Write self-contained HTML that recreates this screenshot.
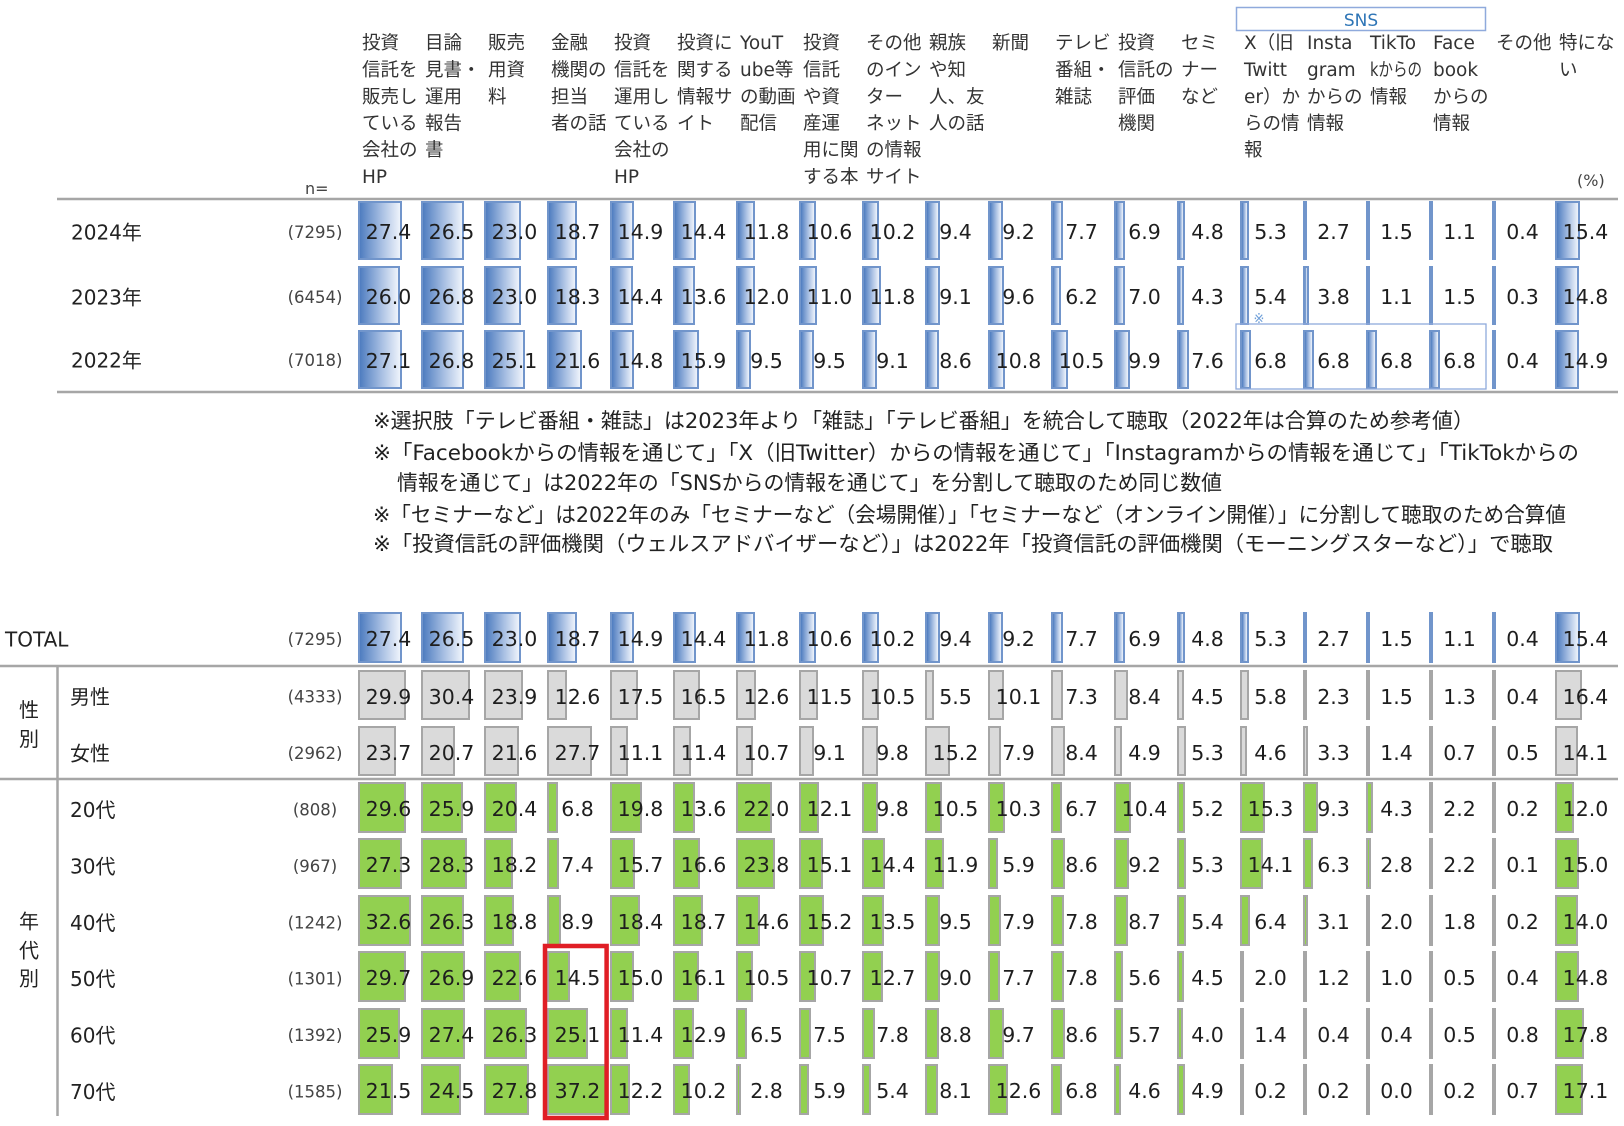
<!DOCTYPE html>
<html><head><meta charset="utf-8">
<style>
body{margin:0;width:1624px;height:1126px;background:#fff;position:relative;overflow:hidden;font-family:"DejaVu Sans","Noto Sans CJK JP",sans-serif}
svg{position:absolute;left:0;top:0}
.r{position:absolute;left:358px;display:flex}
.r p{margin:0 2px 0 0;width:61px;position:relative;z-index:0;text-align:center;font-size:20.5px;color:#1e1e1e;white-space:nowrap;font-family:"DejaVu Sans",sans-serif}
.r p::before{content:"";position:absolute;left:0;top:0;height:var(--h);z-index:-1;box-sizing:border-box;width:max(calc(var(--v) * 1.62px),2.5px)}
.b p::before{background:linear-gradient(90deg,#4f7dc0,#a9c0e3 55%,#eef3fb);border:2px solid #7195cb}
.g p::before{background:#dadada;border:2.5px solid #a6a6a6}
.n p::before{background:#92d050;border:2px solid #a6a6a6}
</style></head><body>
<svg width="1624" height="1126" viewBox="0 0 1624 1126">
<g fill="#333" font-size="18.5" font-family="DejaVu Sans,Noto Sans CJK JP,sans-serif">
<text><tspan x="362" y="49">投資</tspan><tspan x="362" y="76">信託を</tspan><tspan x="362" y="103">販売し</tspan><tspan x="362" y="129.5">ている</tspan><tspan x="362" y="156">会社の</tspan><tspan x="362" y="183">HP</tspan></text>
<text><tspan x="425" y="49">目論</tspan><tspan x="425" y="76">見書・</tspan><tspan x="425" y="103">運用</tspan><tspan x="425" y="129.5">報告</tspan><tspan x="425" y="156">書</tspan></text>
<text><tspan x="488" y="49">販売</tspan><tspan x="488" y="76">用資</tspan><tspan x="488" y="103">料</tspan></text>
<text><tspan x="551" y="49">金融</tspan><tspan x="551" y="76">機関の</tspan><tspan x="551" y="103">担当</tspan><tspan x="551" y="129.5">者の話</tspan></text>
<text><tspan x="614" y="49">投資</tspan><tspan x="614" y="76">信託を</tspan><tspan x="614" y="103">運用し</tspan><tspan x="614" y="129.5">ている</tspan><tspan x="614" y="156">会社の</tspan><tspan x="614" y="183">HP</tspan></text>
<text><tspan x="677" y="49">投資に</tspan><tspan x="677" y="76">関する</tspan><tspan x="677" y="103">情報サ</tspan><tspan x="677" y="129.5">イト</tspan></text>
<text><tspan x="740" y="49">YouT</tspan><tspan x="740" y="76">ube等</tspan><tspan x="740" y="103">の動画</tspan><tspan x="740" y="129.5">配信</tspan></text>
<text><tspan x="803" y="49">投資</tspan><tspan x="803" y="76">信託</tspan><tspan x="803" y="103">や資</tspan><tspan x="803" y="129.5">産運</tspan><tspan x="803" y="156">用に関</tspan><tspan x="803" y="183">する本</tspan></text>
<text><tspan x="866" y="49">その他</tspan><tspan x="866" y="76">のイン</tspan><tspan x="866" y="103">ター</tspan><tspan x="866" y="129.5">ネット</tspan><tspan x="866" y="156">の情報</tspan><tspan x="866" y="183">サイト</tspan></text>
<text><tspan x="929" y="49">親族</tspan><tspan x="929" y="76">や知</tspan><tspan x="929" y="103">人、友</tspan><tspan x="929" y="129.5">人の話</tspan></text>
<text><tspan x="992" y="49">新聞</tspan></text>
<text><tspan x="1055" y="49">テレビ</tspan><tspan x="1055" y="76">番組・</tspan><tspan x="1055" y="103">雑誌</tspan></text>
<text><tspan x="1118" y="49">投資</tspan><tspan x="1118" y="76">信託の</tspan><tspan x="1118" y="103">評価</tspan><tspan x="1118" y="129.5">機関</tspan></text>
<text><tspan x="1181" y="49">セミ</tspan><tspan x="1181" y="76">ナー</tspan><tspan x="1181" y="103">など</tspan></text>
<text><tspan x="1244" y="49">X（旧</tspan><tspan x="1244" y="76">Twitt</tspan><tspan x="1244" y="103">er）か</tspan><tspan x="1244" y="129.5">らの情</tspan><tspan x="1244" y="156">報</tspan></text>
<text><tspan x="1307" y="49">Insta</tspan><tspan x="1307" y="76">gram</tspan><tspan x="1307" y="103">からの</tspan><tspan x="1307" y="129.5">情報</tspan></text>
<text><tspan x="1370" y="49">TikTo</tspan><tspan x="1370" y="103">情報</tspan></text>
<text x="1370" y="76" textLength="52" lengthAdjust="spacingAndGlyphs">kからの</text>
<text><tspan x="1433" y="49">Face</tspan><tspan x="1433" y="76">book</tspan><tspan x="1433" y="103">からの</tspan><tspan x="1433" y="129.5">情報</tspan></text>
<text><tspan x="1496" y="49">その他</tspan></text>
<text><tspan x="1559" y="49">特にな</tspan><tspan x="1559" y="76">い</tspan></text>
</g>
<rect x="1236.5" y="7.5" width="249" height="23" fill="none" stroke="#8faadc" stroke-width="1.5"/>
<text x="1361" y="26" text-anchor="middle" font-size="17" fill="#2e75b6" font-family="DejaVu Sans,sans-serif">SNS</text>
<text x="305" y="194" font-size="16" fill="#444" font-family="DejaVu Sans,sans-serif">n=</text>
<text x="1577" y="186" font-size="16" fill="#444" font-family="DejaVu Sans,sans-serif">(%)</text>
<g stroke="#a6a6a6" stroke-width="2.5" fill="none">
<line x1="57" y1="199" x2="1618" y2="199"/>
<line x1="57" y1="392" x2="1618" y2="392"/>
<line x1="0" y1="666" x2="1618" y2="666"/>
<line x1="0" y1="779" x2="1618" y2="779"/>
<line x1="57.5" y1="667" x2="57.5" y2="1116"/>
</g>
<g font-size="20" fill="#222" font-family="DejaVu Sans,Noto Sans CJK JP,sans-serif">
<text x="71" y="239.5">2024年</text>
<text x="71" y="304.5">2023年</text>
<text x="71" y="367.5">2022年</text>
<text x="5" y="646.5">TOTAL</text>
<text x="70" y="704">男性</text>
<text x="70" y="760.5">女性</text>
<text x="70" y="817">20代</text>
<text x="70" y="873.5">30代</text>
<text x="70" y="930">40代</text>
<text x="70" y="986">50代</text>
<text x="70" y="1042.5">60代</text>
<text x="70" y="1099">70代</text>
<text x="29" y="717" text-anchor="middle">性</text>
<text x="29" y="746" text-anchor="middle">別</text>
<text x="29" y="928.5" text-anchor="middle">年</text>
<text x="29" y="957.5" text-anchor="middle">代</text>
<text x="29" y="985.5" text-anchor="middle">別</text>
</g>
<g font-size="16.5" fill="#444" text-anchor="middle" font-family="DejaVu Sans,sans-serif">
<text x="315" y="238">(7295)</text>
<text x="315" y="303">(6454)</text>
<text x="315" y="366">(7018)</text>
<text x="315" y="645">(7295)</text>
<text x="315" y="702.5">(4333)</text>
<text x="315" y="759">(2962)</text>
<text x="315" y="815.5">(808)</text>
<text x="315" y="872">(967)</text>
<text x="315" y="928.5">(1242)</text>
<text x="315" y="984.5">(1301)</text>
<text x="315" y="1041">(1392)</text>
<text x="315" y="1097.5">(1585)</text>
</g>
<g font-size="21" fill="#222" font-family="DejaVu Sans,Noto Sans CJK JP,sans-serif">
<text x="373" y="428" textLength="1101" lengthAdjust="spacingAndGlyphs">※選択肢「テレビ番組・雑誌」は2023年より「雑誌」「テレビ番組」を統合して聴取（2022年は合算のため参考値）</text>
<text x="373" y="460" textLength="1206" lengthAdjust="spacingAndGlyphs">※「Facebookからの情報を通じて」「X（旧Twitter）からの情報を通じて」「Instagramからの情報を通じて」「TikTokからの</text>
<text x="397" y="490" textLength="825" lengthAdjust="spacingAndGlyphs">情報を通じて」は2022年の「SNSからの情報を通じて」を分割して聴取のため同じ数値</text>
<text x="373" y="522" textLength="1193" lengthAdjust="spacingAndGlyphs">※「セミナーなど」は2022年のみ「セミナーなど（会場開催）」「セミナーなど（オンライン開催）」に分割して聴取のため合算値</text>
<text x="373" y="551" textLength="1180" lengthAdjust="spacingAndGlyphs">※「投資信託の評価機関（ウェルスアドバイザーなど）」は2022年「投資信託の評価機関（モーニングスターなど）」で聴取</text>
</g>
</svg>

<div class="r b" style="top:201px;height:59px;line-height:63px;--h:59px"><p style="--v:27.4">27.4</p><p style="--v:26.5">26.5</p><p style="--v:23.0">23.0</p><p style="--v:18.7">18.7</p><p style="--v:14.9">14.9</p><p style="--v:14.4">14.4</p><p style="--v:11.8">11.8</p><p style="--v:10.6">10.6</p><p style="--v:10.2">10.2</p><p style="--v:9.4">9.4</p><p style="--v:9.2">9.2</p><p style="--v:7.7">7.7</p><p style="--v:6.9">6.9</p><p style="--v:4.8">4.8</p><p style="--v:5.3">5.3</p><p style="--v:2.7">2.7</p><p style="--v:1.5">1.5</p><p style="--v:1.1">1.1</p><p style="--v:0.4">0.4</p><p style="--v:15.4">15.4</p></div>
<div class="r b" style="top:265.5px;height:59px;line-height:63px;--h:59px"><p style="--v:26.0">26.0</p><p style="--v:26.8">26.8</p><p style="--v:23.0">23.0</p><p style="--v:18.3">18.3</p><p style="--v:14.4">14.4</p><p style="--v:13.6">13.6</p><p style="--v:12.0">12.0</p><p style="--v:11.0">11.0</p><p style="--v:11.8">11.8</p><p style="--v:9.1">9.1</p><p style="--v:9.6">9.6</p><p style="--v:6.2">6.2</p><p style="--v:7.0">7.0</p><p style="--v:4.3">4.3</p><p style="--v:5.4">5.4</p><p style="--v:3.8">3.8</p><p style="--v:1.1">1.1</p><p style="--v:1.5">1.5</p><p style="--v:0.3">0.3</p><p style="--v:14.8">14.8</p></div>
<div class="r b" style="top:329.5px;height:59px;line-height:63px;--h:59px"><p style="--v:27.1">27.1</p><p style="--v:26.8">26.8</p><p style="--v:25.1">25.1</p><p style="--v:21.6">21.6</p><p style="--v:14.8">14.8</p><p style="--v:15.9">15.9</p><p style="--v:9.5">9.5</p><p style="--v:9.5">9.5</p><p style="--v:9.1">9.1</p><p style="--v:8.6">8.6</p><p style="--v:10.8">10.8</p><p style="--v:10.5">10.5</p><p style="--v:9.9">9.9</p><p style="--v:7.6">7.6</p><p style="--v:6.8">6.8</p><p style="--v:6.8">6.8</p><p style="--v:6.8">6.8</p><p style="--v:6.8">6.8</p><p style="--v:0.4">0.4</p><p style="--v:14.9">14.9</p></div>

<div class="r b" style="top:612px;height:51px;line-height:55px;--h:51px"><p style="--v:27.4">27.4</p><p style="--v:26.5">26.5</p><p style="--v:23.0">23.0</p><p style="--v:18.7">18.7</p><p style="--v:14.9">14.9</p><p style="--v:14.4">14.4</p><p style="--v:11.8">11.8</p><p style="--v:10.6">10.6</p><p style="--v:10.2">10.2</p><p style="--v:9.4">9.4</p><p style="--v:9.2">9.2</p><p style="--v:7.7">7.7</p><p style="--v:6.9">6.9</p><p style="--v:4.8">4.8</p><p style="--v:5.3">5.3</p><p style="--v:2.7">2.7</p><p style="--v:1.5">1.5</p><p style="--v:1.1">1.1</p><p style="--v:0.4">0.4</p><p style="--v:15.4">15.4</p></div>
<div class="r g" style="top:670px;height:50px;line-height:54px;--h:50px"><p style="--v:29.9">29.9</p><p style="--v:30.4">30.4</p><p style="--v:23.9">23.9</p><p style="--v:12.6">12.6</p><p style="--v:17.5">17.5</p><p style="--v:16.5">16.5</p><p style="--v:12.6">12.6</p><p style="--v:11.5">11.5</p><p style="--v:10.5">10.5</p><p style="--v:5.5">5.5</p><p style="--v:10.1">10.1</p><p style="--v:7.3">7.3</p><p style="--v:8.4">8.4</p><p style="--v:4.5">4.5</p><p style="--v:5.8">5.8</p><p style="--v:2.3">2.3</p><p style="--v:1.5">1.5</p><p style="--v:1.3">1.3</p><p style="--v:0.4">0.4</p><p style="--v:16.4">16.4</p></div>
<div class="r g" style="top:726px;height:50px;line-height:54px;--h:50px"><p style="--v:23.7">23.7</p><p style="--v:20.7">20.7</p><p style="--v:21.6">21.6</p><p style="--v:27.7">27.7</p><p style="--v:11.1">11.1</p><p style="--v:11.4">11.4</p><p style="--v:10.7">10.7</p><p style="--v:9.1">9.1</p><p style="--v:9.8">9.8</p><p style="--v:15.2">15.2</p><p style="--v:7.9">7.9</p><p style="--v:8.4">8.4</p><p style="--v:4.9">4.9</p><p style="--v:5.3">5.3</p><p style="--v:4.6">4.6</p><p style="--v:3.3">3.3</p><p style="--v:1.4">1.4</p><p style="--v:0.7">0.7</p><p style="--v:0.5">0.5</p><p style="--v:14.1">14.1</p></div>
<div class="r n" style="top:782px;height:51px;line-height:55px;--h:51px"><p style="--v:29.6">29.6</p><p style="--v:25.9">25.9</p><p style="--v:20.4">20.4</p><p style="--v:6.8">6.8</p><p style="--v:19.8">19.8</p><p style="--v:13.6">13.6</p><p style="--v:22.0">22.0</p><p style="--v:12.1">12.1</p><p style="--v:9.8">9.8</p><p style="--v:10.5">10.5</p><p style="--v:10.3">10.3</p><p style="--v:6.7">6.7</p><p style="--v:10.4">10.4</p><p style="--v:5.2">5.2</p><p style="--v:15.3">15.3</p><p style="--v:9.3">9.3</p><p style="--v:4.3">4.3</p><p style="--v:2.2">2.2</p><p style="--v:0.2">0.2</p><p style="--v:12.0">12.0</p></div>
<div class="r n" style="top:838.4px;height:51px;line-height:55px;--h:51px"><p style="--v:27.3">27.3</p><p style="--v:28.3">28.3</p><p style="--v:18.2">18.2</p><p style="--v:7.4">7.4</p><p style="--v:15.7">15.7</p><p style="--v:16.6">16.6</p><p style="--v:23.8">23.8</p><p style="--v:15.1">15.1</p><p style="--v:14.4">14.4</p><p style="--v:11.9">11.9</p><p style="--v:5.9">5.9</p><p style="--v:8.6">8.6</p><p style="--v:9.2">9.2</p><p style="--v:5.3">5.3</p><p style="--v:14.1">14.1</p><p style="--v:6.3">6.3</p><p style="--v:2.8">2.8</p><p style="--v:2.2">2.2</p><p style="--v:0.1">0.1</p><p style="--v:15.0">15.0</p></div>
<div class="r n" style="top:894.8px;height:51px;line-height:55px;--h:51px"><p style="--v:32.6">32.6</p><p style="--v:26.3">26.3</p><p style="--v:18.8">18.8</p><p style="--v:8.9">8.9</p><p style="--v:18.4">18.4</p><p style="--v:18.7">18.7</p><p style="--v:14.6">14.6</p><p style="--v:15.2">15.2</p><p style="--v:13.5">13.5</p><p style="--v:9.5">9.5</p><p style="--v:7.9">7.9</p><p style="--v:7.8">7.8</p><p style="--v:8.7">8.7</p><p style="--v:5.4">5.4</p><p style="--v:6.4">6.4</p><p style="--v:3.1">3.1</p><p style="--v:2.0">2.0</p><p style="--v:1.8">1.8</p><p style="--v:0.2">0.2</p><p style="--v:14.0">14.0</p></div>
<div class="r n" style="top:951.2px;height:51px;line-height:55px;--h:51px"><p style="--v:29.7">29.7</p><p style="--v:26.9">26.9</p><p style="--v:22.6">22.6</p><p style="--v:14.5">14.5</p><p style="--v:15.0">15.0</p><p style="--v:16.1">16.1</p><p style="--v:10.5">10.5</p><p style="--v:10.7">10.7</p><p style="--v:12.7">12.7</p><p style="--v:9.0">9.0</p><p style="--v:7.7">7.7</p><p style="--v:7.8">7.8</p><p style="--v:5.6">5.6</p><p style="--v:4.5">4.5</p><p style="--v:2.0">2.0</p><p style="--v:1.2">1.2</p><p style="--v:1.0">1.0</p><p style="--v:0.5">0.5</p><p style="--v:0.4">0.4</p><p style="--v:14.8">14.8</p></div>
<div class="r n" style="top:1007.6px;height:51px;line-height:55px;--h:51px"><p style="--v:25.9">25.9</p><p style="--v:27.4">27.4</p><p style="--v:26.3">26.3</p><p style="--v:25.1">25.1</p><p style="--v:11.4">11.4</p><p style="--v:12.9">12.9</p><p style="--v:6.5">6.5</p><p style="--v:7.5">7.5</p><p style="--v:7.8">7.8</p><p style="--v:8.8">8.8</p><p style="--v:9.7">9.7</p><p style="--v:8.6">8.6</p><p style="--v:5.7">5.7</p><p style="--v:4.0">4.0</p><p style="--v:1.4">1.4</p><p style="--v:0.4">0.4</p><p style="--v:0.4">0.4</p><p style="--v:0.5">0.5</p><p style="--v:0.8">0.8</p><p style="--v:17.8">17.8</p></div>
<div class="r n" style="top:1064px;height:51px;line-height:55px;--h:51px"><p style="--v:21.5">21.5</p><p style="--v:24.5">24.5</p><p style="--v:27.8">27.8</p><p style="--v:37.2">37.2</p><p style="--v:12.2">12.2</p><p style="--v:10.2">10.2</p><p style="--v:2.8">2.8</p><p style="--v:5.9">5.9</p><p style="--v:5.4">5.4</p><p style="--v:8.1">8.1</p><p style="--v:12.6">12.6</p><p style="--v:6.8">6.8</p><p style="--v:4.6">4.6</p><p style="--v:4.9">4.9</p><p style="--v:0.2">0.2</p><p style="--v:0.2">0.2</p><p style="--v:0.0">0.0</p><p style="--v:0.2">0.2</p><p style="--v:0.7">0.7</p><p style="--v:17.1">17.1</p></div>

<svg width="1624" height="1126" viewBox="0 0 1624 1126" style="pointer-events:none">
<rect x="1236" y="324" width="250" height="65" fill="none" stroke="#8faadc" stroke-width="1.3"/>
<text x="1259" y="323" text-anchor="middle" font-size="13" fill="#6f9fd8" font-family="DejaVu Sans,Noto Sans CJK JP,sans-serif">※</text>
<rect x="545" y="946" width="61.6" height="172" fill="none" stroke="#e01e25" stroke-width="4.5"/>
</svg>
</body></html>
